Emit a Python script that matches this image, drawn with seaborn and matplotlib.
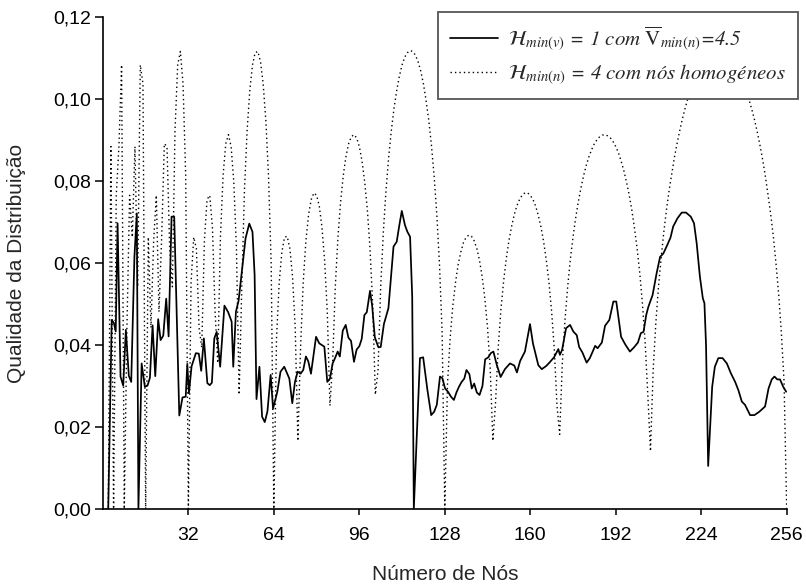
import matplotlib
matplotlib.use("Agg")
import matplotlib.pyplot as plt
import seaborn as sns
import pandas as pd
from matplotlib.ticker import FuncFormatter, FixedLocator

# ---------------- data ----------------
# dotted series: H_min(n) = 4 with homogeneous nodes, one value per node count n = 1..256
homog_n = list(range(1, 257))
homog_q = [
    0.0, 0.0, .0884, 0.0, .0765, .0884, .1083, 0.0, .0442, .0765,
    .0663, .0884, .0542, .1083, .1037, 0.0, .0663, .0442, .0654, .0765,
    .0481, .0663, .0891, .0884, .0635, .0542, .0924, .1083, .1116, .1037,
    .0812, 0.0, .0552, .0663, .0635, .0442, .0394, .0654, .0755, .0765,
    .0688, .0481, .0356, .0663, .0814, .0891, .0913, .0884, .0798, .0635,
    .0279, .0542, .0778, .0924, .1021, .1083, .1113, .1116, .1091, .1037,
    .0948, .0812, .0598, 0.0, .0417, .0552, .0627, .0663, .0665, .0635,
    .0566, .0442, .0166, .0394, .0554, .0654, .0718, .0755, .0771, .0765,
    .0739, .0688, .0607, .0481, .0252, .0356, .0542, .0663, .0750, .0814,
    .0860, .0891, .0908, .0913, .0905, .0884, .0849, .0798, .0730, .0635,
    .0500, .0279, .0338, .0542, .0676, .0778, .0859, .0924, .0978, .1021,
    .1056, .1083, .1102, .1113, .1118, .1116, .1107, .1091, .1068, .1037,
    .0996, .0948, .0887, .0812, .0719, .0598, .0430, 0.0, .0304, .0417,
    .0495, .0552, .0596, .0627, .0650, .0663, .0668, .0665, .0654, .0635,
    .0606, .0566, .0513, .0442, .0342, .0166, .0260, .0394, .0486, .0554,
    .0610, .0654, .0689, .0718, .0740, .0755, .0766, .0771, .0771, .0765,
    .0755, .0739, .0716, .0688, .0652, .0607, .0552, .0481, .0389, .0252,
    .0182, .0356, .0461, .0542, .0609, .0663, .0710, .0750, .0784, .0814,
    .0839, .0860, .0877, .0891, .0901, .0908, .0912, .0913, .0910, .0905,
    .0896, .0884, .0869, .0849, .0826, .0798, .0767, .0730, .0686, .0635,
    .0575, .0500, .0407, .0279, .0141, .0338, .0453, .0542, .0612, .0676,
    .0730, .0778, .0819, .0859, .0893, .0924, .0953, .0978, .1001, .1021,
    .1040, .1056, .1070, .1083, .1093, .1102, .1108, .1113, .1116, .1118,
    .1118, .1116, .1112, .1107, .1100, .1091, .1080, .1068, .1054, .1037,
    .1018, .0996, .0973, .0948, .0919, .0887, .0852, .0812, .0767, .0719,
    .0665, .0598, .0523, .0430, .0312, 0.0,
]

# solid series: H_min(v) = 1 with mean V_min(n) = 4.5
var_n = [
    2.0, 3.3, 4.1, 4.8, 5.5, 6.6, 7.6, 8.6, 9.7, 10.6,
    11.8, 12.7, 13.3, 14.5, 15.7, 16.7, 17.6, 18.6, 19.6, 20.7,
    21.6, 22.6, 23.7, 24.6, 25.7, 26.7, 28.6, 29.8, 31.0, 31.6,
    32.2, 33.2, 34.8, 35.9, 36.8, 37.8, 39.1, 40.0, 40.8, 41.7,
    42.6, 43.9, 45.5, 46.9, 48.2, 48.8, 49.8, 50.8, 52.2, 53.4,
    54.8, 56.0, 56.8, 57.5, 58.6, 59.6, 60.6, 61.6, 62.8, 63.7,
    65.3, 66.5, 67.9, 69.8, 70.9, 71.9, 72.9, 74.0, 75.0, 76.0,
    76.9, 77.9, 78.8, 79.8, 81.0, 82.9, 84.0, 85.0, 86.0, 86.9,
    87.9, 88.7, 89.8, 90.9, 91.9, 92.9, 94.0, 95.0, 96.0, 96.9,
    97.9, 98.8, 100.0, 100.8, 101.8, 103.1, 104.0, 105.2, 106.9, 108.8,
    110.0, 111.0, 111.9, 113.1, 114.0, 115.0, 115.8, 116.4, 118.7, 119.9,
    121.5, 122.9, 124.0, 125.0, 126.2, 127.1, 128.1, 129.3, 130.3, 131.4,
    132.4, 133.3, 134.3, 135.3, 136.1, 137.2, 138.1, 139.0, 140.0, 141.0,
    142.1, 143.1, 144.3, 145.2, 146.2, 147.4, 148.9, 150.5, 152.4, 154.0,
    155.0, 156.2, 158.0, 159.9, 161.0, 162.2, 163.0, 164.3, 166.0, 167.3,
    168.9, 170.5, 171.1, 171.9, 173.4, 174.9, 176.1, 177.4, 178.3, 179.5,
    181.1, 182.3, 184.3, 185.2, 186.8, 188.0, 189.6, 191.1, 192.2, 194.0,
    195.5, 197.3, 198.8, 200.3, 201.4, 202.4, 203.4, 204.2, 205.8, 207.3,
    208.6, 209.8, 211.3, 212.5, 213.5, 215.1, 216.7, 218.3, 220.1, 221.3,
    222.3, 223.5, 224.6, 225.2, 225.8, 226.6, 228.1, 229.1, 230.4, 232.0,
    233.6, 235.1, 236.7, 237.9, 239.2, 240.4, 242.3, 243.9, 245.7, 247.9,
    249.2, 250.4, 251.4, 252.5, 253.5, 254.7, 255.8,
]
var_q = [
    0.0, .0461, .0454, .0433, .0697, .0323, .0301, .0437, .0325, .0310,
    .0615, .0721, 0.0, .0355, .0298, .0301, .0320, .0448, .0324, .0463,
    .0412, .0423, .0513, .0421, .0713, .0713, .0228, .0272, .0274, .0354,
    .0282, .0348, .0380, .0379, .0337, .0416, .0307, .0302, .0308, .0416,
    .0432, .0347, .0496, .0480, .0457, .0347, .0481, .0508, .0591, .0660,
    .0696, .0676, .0571, .0268, .0347, .0225, .0212, .0238, .0327, .0245,
    .0286, .0335, .0347, .0318, .0258, .0310, .0335, .0330, .0339, .0372,
    .0360, .0330, .0372, .0420, .0404, .0396, .0310, .0318, .0355, .0368,
    .0384, .0372, .0435, .0449, .0418, .0410, .0359, .0389, .0397, .0415,
    .0473, .0480, .0532, .0496, .0419, .0395, .0395, .0451, .0490, .0640,
    .0652, .0693, .0727, .0692, .0676, .0664, .0518, 0.0, .0368, .0370,
    .0290, .0229, .0237, .0254, .0323, .0319, .0294, .0285, .0274, .0266,
    .0285, .0298, .0310, .0318, .0339, .0329, .0294, .0306, .0284, .0278,
    .0300, .0365, .0370, .0380, .0384, .0353, .0322, .0341, .0355, .0350,
    .0333, .0361, .0384, .0451, .0404, .0372, .0351, .0341, .0349, .0358,
    .0370, .0390, .0376, .0388, .0441, .0449, .0433, .0424, .0395, .0382,
    .0357, .0368, .0398, .0392, .0406, .0447, .0461, .0506, .0506, .0420,
    .0402, .0384, .0394, .0406, .0429, .0432, .0473, .0493, .0522, .0575,
    .0615, .0623, .0644, .0662, .0689, .0709, .0723, .0723, .0713, .0697,
    .0648, .0567, .0514, .0502, .0400, .0105, .0298, .0347, .0368, .0368,
    .0355, .0331, .0310, .0290, .0262, .0254, .0229, .0229, .0237, .0250,
    .0294, .0316, .0323, .0316, .0316, .0298, .0286,
]

x_ticks = [32, 64, 96, 128, 160, 192, 224, 256]
y_ticks = [0.00, 0.02, 0.04, 0.06, 0.08, 0.10, 0.12]

label_var = r'$\mathcal{H}_{min(v)}$ = 1 com $\overline{\mathrm{V}}_{min(n)}$=4.5'
label_hom = r'$\mathcal{H}_{min(n)}$ = 4 com nós homogéneos'
x_title = "Número de Nós"
y_title = "Qualidade da Distribuição"

# ---------------- style ----------------
sns.set_style("ticks")
plt.rcParams["font.family"] = ["Liberation Sans", "DejaVu Sans"]
plt.rcParams["mathtext.fontset"] = "stix"

W, H = 806, 588
fig = plt.figure(figsize=(W / 100, H / 100), dpi=100)
ax_l, ax_r, ax_t, ax_b = 102.9, 786.7, 17.0, 509.0
ax = fig.add_axes([ax_l / W, 1 - ax_b / H, (ax_r - ax_l) / W, (ax_b - ax_t) / H])

df_hom = pd.DataFrame({"n": homog_n, "q": homog_q})
df_var = pd.DataFrame({"n": var_n, "q": var_q})

sns.lineplot(data=df_hom, x="n", y="q", ax=ax, color="black", linewidth=1.0,
             linestyle=(0, (1, 2.2)), errorbar=None, label=label_hom)
sns.lineplot(data=df_var, x="n", y="q", ax=ax, color="black", linewidth=1.25,
             errorbar=None, label=label_var)

ax.set_xlim(0, 256)
ax.set_ylim(0, 0.12)
ax.xaxis.set_major_locator(FixedLocator(x_ticks))
ax.yaxis.set_major_locator(FixedLocator(y_ticks))
ax.yaxis.set_major_formatter(FuncFormatter(lambda v, p: f"{v:.2f}".replace(".", ",")))
ax.set_xlabel("")
ax.set_ylabel("")

for s in ["top", "right"]:
    ax.spines[s].set_visible(False)
for s in ["left", "bottom"]:
    ax.spines[s].set_linewidth(1.2)
    ax.spines[s].set_color("black")

ax.tick_params(axis="y", direction="out", length=6, width=1.1, pad=2.5,
               labelsize=14, colors="black")
ax.tick_params(axis="x", direction="out", length=4, width=1.1, pad=9,
               labelsize=14, colors="black")

fig.text((ax_l + ax_r) / 2 / W, 1 - 574 / H, x_title, ha="center", va="center",
         fontsize=15)
fig.text(17 / W, 1 - (ax_t + ax_b) / 2 / H, y_title, ha="center", va="center",
         rotation=90, fontsize=15)

handles, labels = ax.get_legend_handles_labels()
order = [1, 0]
leg = ax.legend([handles[i] for i in order], [labels[i] for i in order],
                loc="upper right", bbox_to_anchor=(798 / W, 1 - 12 / H),
                bbox_transform=fig.transFigure, frameon=True, fancybox=False,
                framealpha=1, edgecolor="#555555", borderpad=0.6,
                handlelength=2.3, handletextpad=0.45, labelspacing=0.45,
                borderaxespad=0.0,
                prop={"family": "STIXGeneral", "style": "italic", "size": 15})
leg.get_frame().set_linewidth(1.3)
leg.set_zorder(10)

fig.savefig("out.png", dpi=100)
